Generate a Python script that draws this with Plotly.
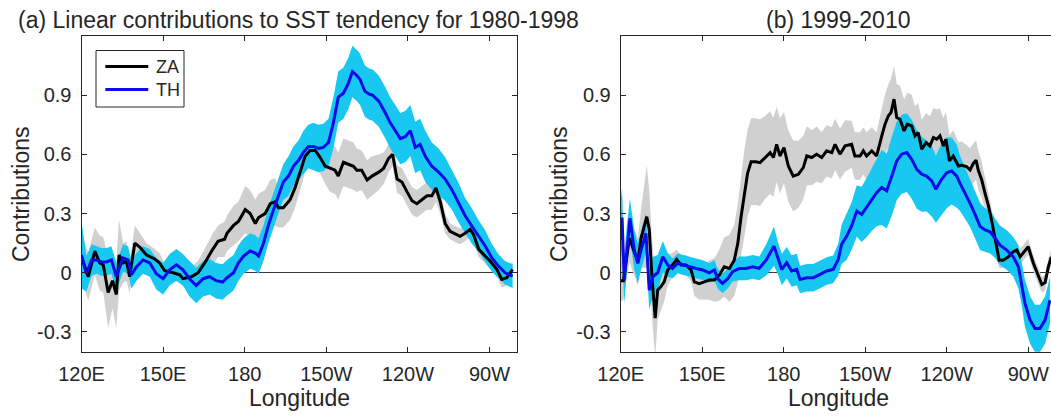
import plotly.graph_objects as go

# ---------------- data ----------------
X_TICKS = [120, 150, 180, 210, 240, 270]
X_TICK_LABELS = ["120E", "150E", "180", "150W", "120W", "90W"]
Y_TICKS = [-0.3, 0, 0.3, 0.6, 0.9]
Y_TICK_LABELS = ["-0.3", "0", "0.3", "0.6", "0.9"]
LEGEND_NAMES = ["ZA", "TH"]

# Panel (a) 1980-1998, ZA
A_ZA_LON = [120.0, 122.5, 124.9, 126.7, 128.0, 129.8, 131.4, 132.8, 133.8, 135.3, 136.5, 137.7,
            139.6, 141.4, 143.9, 146.9, 148.7, 150.6, 153.7, 156.1, 157.3, 160.4, 162.8, 165.3,
            168.3, 170.2, 172.6, 173.5, 175.9, 177.7, 180.2, 182.0, 183.9, 185.1, 187.5, 189.4,
            191.2, 192.4, 194.2, 196.7, 198.5, 200.4, 202.2, 204.0, 205.9, 207.7, 209.6, 211.4,
            213.2, 214.4, 216.3, 218.1, 220.0, 221.2, 223.0, 225.0, 226.8, 229.3, 231.1, 232.9,
            234.4, 236.0, 237.8, 239.7, 241.5, 243.3, 245.2, 247.0, 248.8, 250.3, 251.9, 253.7,
            255.5, 257.4, 259.2, 261.0, 262.9, 264.1, 266.0, 268.4, 270.2, 272.7, 274.5, 276.4,
            278.5]
A_ZA = [0.08, -0.02, 0.11, 0.05, 0.04, -0.10, -0.04, -0.11, 0.09, 0.05, 0.06, -0.02,
        0.15, 0.13, 0.09, 0.07, 0.05, 0.01, 0.00, -0.01, -0.03, -0.02, 0.00, 0.05,
        0.12, 0.16, 0.17, 0.20, 0.24, 0.26, 0.32, 0.30, 0.25, 0.28, 0.30, 0.35,
        0.36, 0.33, 0.33, 0.37, 0.43, 0.51, 0.59, 0.62, 0.62, 0.585, 0.54, 0.53,
        0.52, 0.49, 0.56, 0.55, 0.54, 0.52, 0.52, 0.47, 0.49, 0.51, 0.53, 0.58,
        0.60, 0.475, 0.46, 0.41, 0.365, 0.35, 0.37, 0.39, 0.39, 0.43, 0.36, 0.25,
        0.21, 0.195, 0.185, 0.20, 0.22, 0.195, 0.12, 0.085, 0.06, 0.017, -0.034, -0.025,
        0.017]
A_ZA_ERR = [0.12, 0.12, 0.12, 0.14, 0.14, 0.18, 0.14, 0.17, 0.18, 0.10, 0.10, 0.08,
            0.09, 0.07, 0.06, 0.05, 0.05, 0.04, 0.04, 0.04, 0.04, 0.05, 0.06, 0.07,
            0.08, 0.08, 0.09, 0.09, 0.10, 0.10, 0.12, 0.12, 0.12, 0.12, 0.12, 0.12,
            0.12, 0.10, 0.10, 0.10, 0.10, 0.09, 0.08, 0.08, 0.08, 0.08, 0.09, 0.12,
            0.12, 0.12, 0.12, 0.12, 0.12, 0.11, 0.10, 0.10, 0.10, 0.09, 0.08, 0.07,
            0.06, 0.07, 0.07, 0.07, 0.07, 0.07, 0.07, 0.07, 0.07, 0.07, 0.06, 0.05,
            0.04, 0.04, 0.04, 0.04, 0.04, 0.04, 0.04, 0.04, 0.04, 0.04, 0.04, 0.04,
            0.04]

# Panel (a) 1980-1998, TH
A_TH_LON = [120.0, 121.8, 123.7, 125.5, 127.3, 129.2, 131.0, 132.8, 135.3, 137.1, 138.4, 140.2,
            142.6, 145.1, 147.5, 150.0, 152.4, 154.9, 157.3, 159.7, 162.2, 164.7, 167.1, 169.5,
            171.9, 173.5, 175.9, 177.7, 179.6, 182.0, 183.9, 185.1, 186.9, 188.7, 190.6, 192.4,
            194.2, 196.1, 197.9, 199.8, 201.6, 203.4, 205.3, 207.1, 208.9, 210.8, 212.6, 214.4,
            216.3, 218.1, 219.6, 221.2, 222.4, 224.2, 225.8, 227.0, 229.3, 231.7, 233.5, 235.4,
            237.2, 239.0, 240.9, 242.7, 244.5, 246.4, 248.8, 251.3, 253.7, 256.2, 258.6, 261.0,
            263.5, 266.0, 268.4, 270.8, 273.3, 275.7, 278.5]
A_TH = [0.09, -0.005, 0.065, 0.065, 0.055, 0.055, 0.065, -0.02, 0.075, 0.065, -0.01, 0.03,
        0.065, 0.05, -0.005, -0.03, 0.015, 0.04, 0.015, -0.03, -0.065, -0.03, -0.02, -0.04,
        -0.047, -0.025, 0.0, 0.05, 0.085, 0.11, 0.10, 0.085, 0.15, 0.24, 0.32, 0.39,
        0.46, 0.49, 0.54, 0.57, 0.61, 0.64, 0.64, 0.63, 0.635, 0.66, 0.76, 0.89,
        0.91, 0.96, 1.02, 1.00, 0.98, 0.92, 0.905, 0.90, 0.87, 0.81, 0.76, 0.72,
        0.68, 0.69, 0.72, 0.635, 0.65, 0.59, 0.54, 0.51, 0.475, 0.42, 0.356, 0.29,
        0.237, 0.186, 0.136, 0.077, 0.034, 0.0, -0.017]
A_TH_ERR = [0.17, 0.09, 0.08, 0.07, 0.07, 0.07, 0.07, 0.07, 0.07, 0.07, 0.07, 0.07,
            0.07, 0.07, 0.08, 0.08, 0.08, 0.08, 0.08, 0.09, 0.09, 0.09, 0.09, 0.09,
            0.09, 0.09, 0.09, 0.09, 0.09, 0.09, 0.09, 0.09, 0.09, 0.09, 0.09, 0.09,
            0.09, 0.10, 0.10, 0.10, 0.11, 0.11, 0.12, 0.12, 0.12, 0.12, 0.13, 0.13,
            0.13, 0.13, 0.13, 0.13, 0.13, 0.13, 0.13, 0.13, 0.13, 0.13, 0.13, 0.13,
            0.13, 0.13, 0.13, 0.13, 0.13, 0.13, 0.12, 0.12, 0.11, 0.10, 0.10, 0.09,
            0.09, 0.08, 0.08, 0.07, 0.06, 0.06, 0.06]

# Panel (b) 1999-2010, ZA
B_ZA_LON = [120.0, 121.0, 123.2, 126.3, 127.5, 129.6, 130.5, 131.5, 132.7, 133.6, 134.8, 136.0,
            137.3, 139.1, 140.6, 142.2, 144.0, 145.9, 147.1, 148.9, 150.8, 152.6, 154.5, 156.3,
            158.1, 160.0, 161.8, 163.1, 164.3, 165.5, 166.7, 168.0, 169.7, 171.3, 173.1, 175.0,
            176.2, 177.4, 178.6, 180.1, 181.7, 183.5, 185.4, 187.2, 188.5, 190.3, 192.1, 194.0,
            195.8, 197.7, 198.9, 200.7, 202.6, 205.0, 206.2, 208.1, 209.3, 210.5, 212.4, 214.2,
            216.1, 217.3, 218.5, 219.5, 220.6, 221.6, 222.8, 224.3, 225.5, 227.1, 228.3, 229.5,
            230.8, 232.4, 233.8, 235.1, 236.3, 237.5, 238.8, 239.7, 241.0, 242.4, 244.3, 245.5,
            247.3, 248.6, 249.8, 250.8, 251.6, 252.9, 254.1, 255.3, 256.5, 257.8, 259.3, 260.8,
            262.7, 264.5, 265.8, 267.0, 268.5, 270.0, 271.9, 273.7, 275.0, 276.2, 277.4, 278.5]
B_ZA = [-0.04, -0.04, 0.175, 0.056, 0.175, 0.284, 0.22, -0.02, -0.23, -0.088, -0.07, -0.046,
        0.014, 0.04, 0.068, 0.04, 0.04, 0.014, -0.046, -0.055, -0.046, -0.037, -0.037, -0.012,
        0.03, 0.022, 0.064, 0.149, 0.284, 0.403, 0.504, 0.563, 0.563, 0.558, 0.584, 0.609,
        0.584, 0.651, 0.592, 0.634, 0.541, 0.49, 0.499, 0.533, 0.592, 0.584, 0.601, 0.584,
        0.618, 0.609, 0.651, 0.601, 0.643, 0.651, 0.592, 0.592, 0.618, 0.592, 0.618, 0.592,
        0.694, 0.753, 0.795, 0.812, 0.88, 0.787, 0.778, 0.719, 0.753, 0.744, 0.694, 0.711,
        0.626, 0.66, 0.643, 0.685, 0.677, 0.694, 0.643, 0.677, 0.567, 0.592, 0.541, 0.545,
        0.538, 0.521, 0.555, 0.571, 0.521, 0.47, 0.403, 0.343, 0.267, 0.166, 0.064, 0.064,
        0.081, 0.107, 0.115, 0.081, 0.107, 0.132, 0.048, -0.02, -0.06, -0.05, 0.03, 0.08]
B_ZA_ERR = [0.10, 0.10, 0.12, 0.12, 0.15, 0.26, 0.20, 0.20, 0.20, 0.15, 0.12, 0.10,
            0.08, 0.06, 0.05, 0.05, 0.05, 0.06, 0.07, 0.08, 0.09, 0.10, 0.11, 0.13,
            0.15, 0.17, 0.18, 0.20, 0.20, 0.22, 0.22, 0.22, 0.22, 0.22, 0.21, 0.21,
            0.20, 0.19, 0.19, 0.18, 0.18, 0.18, 0.17, 0.16, 0.15, 0.14, 0.14, 0.13,
            0.13, 0.13, 0.13, 0.13, 0.13, 0.12, 0.12, 0.12, 0.12, 0.12, 0.12, 0.12,
            0.14, 0.15, 0.16, 0.17, 0.17, 0.17, 0.17, 0.16, 0.16, 0.16, 0.15, 0.15,
            0.15, 0.15, 0.15, 0.15, 0.15, 0.14, 0.14, 0.14, 0.13, 0.13, 0.12, 0.12,
            0.11, 0.11, 0.10, 0.10, 0.10, 0.09, 0.08, 0.07, 0.06, 0.05, 0.04, 0.04,
            0.04, 0.04, 0.04, 0.04, 0.04, 0.04, 0.04, 0.04, 0.04, 0.04, 0.04, 0.04]

# Panel (b) 1999-2010, TH
B_TH_LON = [120.0, 120.5, 121.3, 122.2, 123.4, 125.0, 126.3, 127.5, 129.3, 130.5, 131.8, 133.6,
            135.5, 137.3, 139.1, 141.0, 142.8, 145.2, 147.7, 150.2, 152.6, 154.5, 155.7, 157.5,
            159.4, 161.2, 163.7, 166.1, 168.6, 171.0, 173.7, 176.4, 178.0, 179.3, 181.1, 182.9,
            184.8, 186.0, 188.5, 190.9, 193.4, 195.8, 198.2, 200.1, 201.3, 203.2, 205.0, 206.9,
            208.7, 210.5, 212.4, 214.2, 216.1, 217.9, 219.8, 221.6, 223.4, 225.3, 227.1, 229.0,
            230.8, 232.6, 234.5, 236.0, 238.1, 240.0, 241.8, 243.7, 244.9, 246.8, 248.6, 250.5,
            252.3, 254.1, 256.0, 257.8, 259.6, 262.1, 264.5, 266.4, 267.6, 268.8, 270.7, 272.5,
            274.3, 276.2, 278.0]
B_TH = [0.166, 0.28, -0.037, 0.115, 0.276, 0.115, 0.048, 0.115, 0.20, -0.088, -0.02, 0.0,
        0.081, 0.04, 0.022, 0.048, 0.04, 0.03, 0.022, 0.014, 0.0, 0.014, -0.03, -0.054,
        -0.03, 0.006, 0.022, 0.022, 0.03, 0.022, 0.068, 0.135, 0.068, 0.017, 0.051, 0.009,
        0.017, -0.034, -0.025, -0.025, -0.008, 0.009, 0.017, 0.068, 0.144, 0.186, 0.237, 0.313,
        0.296, 0.33, 0.372, 0.406, 0.432, 0.415, 0.49, 0.567, 0.601, 0.609, 0.575, 0.524,
        0.499, 0.49, 0.465, 0.423, 0.474, 0.507, 0.516, 0.49, 0.453, 0.403, 0.352, 0.293,
        0.234, 0.217, 0.208, 0.175, 0.14, 0.115, 0.081, 0.03, -0.054, -0.155, -0.24, -0.282,
        -0.282, -0.24, -0.139]
B_TH_ERR = [0.20, 0.15, 0.12, 0.12, 0.10, 0.10, 0.10, 0.10, 0.10, 0.10, 0.10, 0.09,
            0.08, 0.06, 0.05, 0.05, 0.05, 0.05, 0.05, 0.05, 0.05, 0.05, 0.05, 0.05,
            0.05, 0.05, 0.06, 0.06, 0.06, 0.06, 0.08, 0.10, 0.08, 0.08, 0.08, 0.08,
            0.08, 0.07, 0.07, 0.07, 0.07, 0.07, 0.07, 0.08, 0.10, 0.12, 0.12, 0.13,
            0.14, 0.15, 0.16, 0.17, 0.19, 0.19, 0.20, 0.20, 0.20, 0.20, 0.20, 0.20,
            0.19, 0.18, 0.18, 0.17, 0.18, 0.18, 0.17, 0.16, 0.14, 0.13, 0.12, 0.12,
            0.12, 0.11, 0.11, 0.10, 0.10, 0.10, 0.10, 0.11, 0.11, 0.12, 0.12, 0.12,
            0.12, 0.12, 0.12]

# ---------------- styling ----------------
W, H = 1051, 417
FONT = "Liberation Sans, Arial, Helvetica, sans-serif"
TXT = "#262626"
GRAY_FILL = "rgb(208,208,208)"
CYAN_FILL = "rgb(24,200,240)"
ZA_COLOR = "black"
TH_COLOR = "rgb(10,10,235)"

fig = go.Figure()


def band(lon, val, err, color, xa, ya):
    upper = [v + e for v, e in zip(val, err)]
    lower = [v - e for v, e in zip(val, err)]
    fig.add_trace(go.Scatter(
        x=list(lon) + list(lon)[::-1], y=upper + lower[::-1],
        fill="toself", fillcolor=color, line=dict(width=0), mode="lines",
        hoverinfo="skip", showlegend=False, xaxis=xa, yaxis=ya))


def line(lon, val, color, name, xa, ya):
    fig.add_trace(go.Scatter(
        x=lon, y=val, mode="lines", line=dict(color=color, width=3),
        name=name, showlegend=False, xaxis=xa, yaxis=ya))


for (zl, zv, ze, tl, tv, te, xa, ya) in [
        (A_ZA_LON, A_ZA, A_ZA_ERR, A_TH_LON, A_TH, A_TH_ERR, "x", "y"),
        (B_ZA_LON, B_ZA, B_ZA_ERR, B_TH_LON, B_TH, B_TH_ERR, "x2", "y2")]:
    band(zl, zv, ze, GRAY_FILL, xa, ya)
    band(tl, tv, te, CYAN_FILL, xa, ya)
    line(zl, zv, ZA_COLOR, LEGEND_NAMES[0], xa, ya)
    line(tl, tv, TH_COLOR, LEGEND_NAMES[1], xa, ya)

# plot-area geometry (pixels)
A_LEFT, A_RIGHT = 81.5, 516.7
B_LEFT = 620.7
B_PX_PER_DEG = (1055.4 - B_LEFT) / 160.0
TOP, BOTTOM = 36.0, 351.7

axis_common = dict(
    showline=True, linecolor=TXT, linewidth=1, mirror="ticks", automargin=False,
    ticks="inside", ticklen=5, tickwidth=1, tickcolor=TXT,
    showgrid=False, tickfont=dict(family=FONT, size=20, color=TXT),
)
xaxis_common = dict(axis_common, tickvals=X_TICKS, ticktext=X_TICK_LABELS, zeroline=False,
                    ticklabelstandoff=4)
yaxis_common = dict(axis_common, tickvals=Y_TICKS, ticktext=Y_TICK_LABELS, range=[-0.4, 1.2],
                    zeroline=True, zerolinecolor="#3a3a3a", zerolinewidth=1,
                    ticklabelstandoff=5,
                    domain=[(H - BOTTOM) / H, (H - TOP) / H])

fig.update_layout(
    width=W, height=H, autosize=False,
    margin=dict(l=0, r=0, t=0, b=0, pad=0, autoexpand=False),
    paper_bgcolor="white", plot_bgcolor="white",
    font=dict(family=FONT, color=TXT),
    xaxis=dict(xaxis_common, domain=[A_LEFT / W, A_RIGHT / W], range=[120, 280], anchor="y"),
    yaxis=dict(yaxis_common, anchor="x"),
    xaxis2=dict(xaxis_common, domain=[B_LEFT / W, 1.0],
                range=[120, 120 + (W - B_LEFT) / B_PX_PER_DEG], anchor="y2"),
    yaxis2=dict(yaxis_common, anchor="x2"),
    showlegend=False,
)

ann = []
def text(x, y, s, size, angle=0, xanchor="center"):
    ann.append(dict(x=x / W, y=1 - y / H, xref="paper", yref="paper", text=s, showarrow=False,
                    xanchor=xanchor, yanchor="middle", textangle=angle,
                    font=dict(family=FONT, size=size, color=TXT)))

text(298.5, 19.5, "(a) Linear contributions to SST tendency for 1980-1998", 23)
text(838.0, 19.5, "(b) 1999-2010", 23)
text(299.0, 398.0, "Longitude", 23)
text(838.0, 398.0, "Longitude", 23)
text(21.0, 194.0, "Contributions", 23, -90)
text(559.0, 194.0, "Contributions", 23, -90)

# legend (box, sample lines, labels) drawn in panel (a)
shapes = [dict(type="rect", xref="paper", yref="paper",
               x0=96 / W, x1=184 / W, y0=1 - 107 / H, y1=1 - 50.5 / H,
               line=dict(color=TXT, width=1), fillcolor="white", layer="above")]
for name, color, ypx in [(LEGEND_NAMES[0], ZA_COLOR, 66.5), (LEGEND_NAMES[1], TH_COLOR, 89.5)]:
    shapes.append(dict(type="line", xref="paper", yref="paper",
                       x0=105.3 / W, x1=148.3 / W, y0=1 - ypx / H, y1=1 - ypx / H,
                       line=dict(color=color, width=3), layer="above"))
    text(153.5, ypx, name, 18, xanchor="left")

fig.update_layout(annotations=ann, shapes=shapes)

fig.write_html("out.html")
